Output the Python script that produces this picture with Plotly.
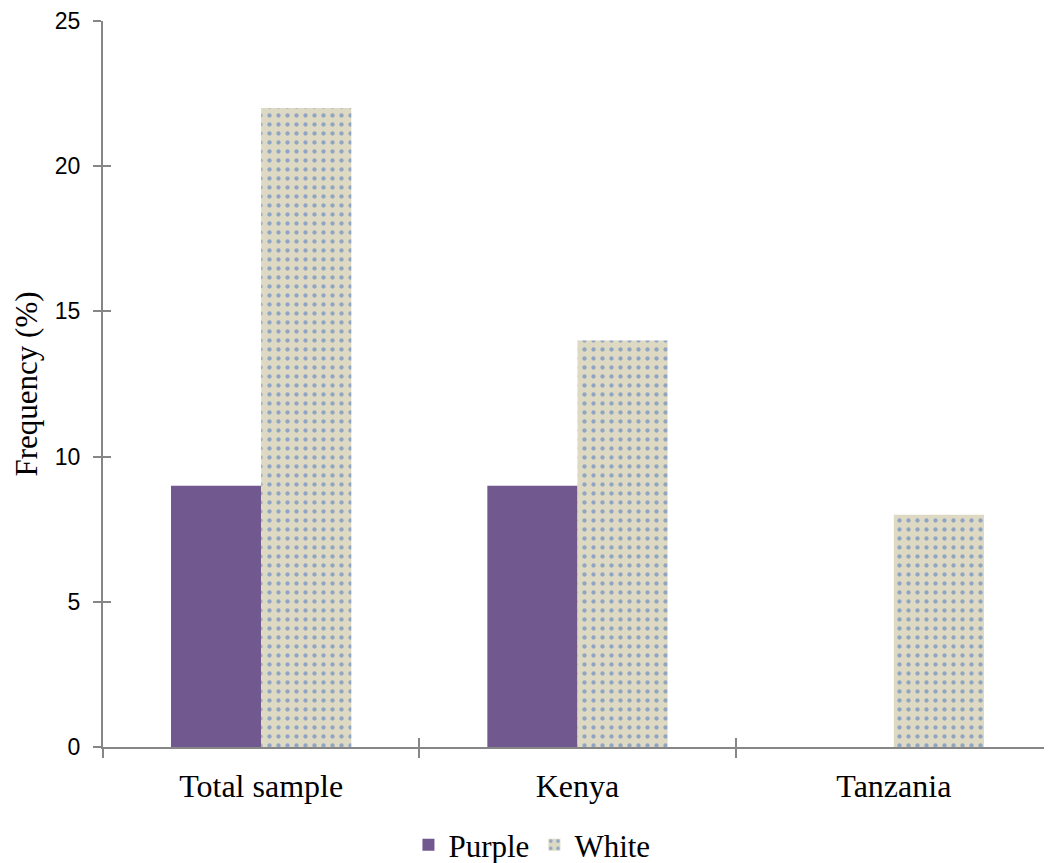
import plotly.graph_objects as go

categories = ["Total sample", "Kenya", "Tanzania"]
purple = [9, 9, 0]
white = [22, 14, 8]
y_ticks = [0, 5, 10, 15, 20, 25]

AXIS = "#868686"
SERIF = "Liberation Serif"

fig = go.Figure()
fig.add_trace(go.Bar(
    name="Purple", x=categories, y=purple,
    marker=dict(color="#71588F", line=dict(width=0)),
))
fig.add_trace(go.Bar(
    name="White", x=categories, y=white,
    marker=dict(color="#DDD9C3", line=dict(width=0),
                pattern=dict(shape=".", fgcolor="#4472C4", bgcolor="#DDD9C3",
                             size=9, solidity=0.18, fillmode="overlay")),
))
# invisible helper trace to carry the overlay axes that draw inward tick halves
idx = list(range(len(categories)))
fig.add_trace(go.Scatter(
    x=idx, y=white, xaxis="x2", yaxis="y2", mode="markers",
    marker=dict(opacity=0), showlegend=False, hoverinfo="skip",
))

n = len(categories)
fig.update_layout(
    width=1044, height=855,
    paper_bgcolor="white", plot_bgcolor="white",
    margin=dict(l=95, r=0, t=13, b=116, autoexpand=False),
    barmode="group", bargap=0.43, bargroupgap=0,
    showlegend=True,
    legend=dict(orientation="h", x=0.452, xanchor="center",
                yref="container", y=0.021, yanchor="middle",
                font=dict(family=SERIF, size=31, color="#000000"),
                itemwidth=30, tracegroupgap=0, bgcolor="rgba(0,0,0,0)"),
    xaxis=dict(
        type="category", showline=True, linecolor=AXIS, linewidth=2,
        ticks="outside", tickson="boundaries", ticklen=9, tickwidth=2, tickcolor=AXIS,
        tickfont=dict(family=SERIF, size=32, color="#000000"),
        ticklabelstandoff=10, automargin=False,
        showgrid=False, zeroline=False,
    ),
    yaxis=dict(
        range=[0, 25], tickvals=y_ticks, showline=True, linecolor=AXIS, linewidth=2,
        ticks="outside", ticklen=8, tickwidth=2, tickcolor=AXIS,
        tickfont=dict(family="Liberation Sans", size=23, color="#000000"),
        ticklabelstandoff=8, automargin=False,
        showgrid=False, zeroline=False,
        title=dict(text="Frequency (%)", font=dict(family=SERIF, size=31, color="#000000"),
                   standoff=8),
    ),
    xaxis2=dict(
        overlaying="x", anchor="y2", range=[-0.5, n - 0.5],
        tickvals=[i - 0.5 for i in range(n + 1)],
        ticks="inside", ticklen=9, tickwidth=2, tickcolor=AXIS,
        showticklabels=False, showline=False, showgrid=False, zeroline=False,
    ),
    yaxis2=dict(
        overlaying="y", anchor="x2", range=[0, 25], tickvals=y_ticks,
        ticks="inside", ticklen=8, tickwidth=2, tickcolor=AXIS,
        showticklabels=False, showline=False, showgrid=False, zeroline=False,
    ),
)

fig.write_html("out.html")
